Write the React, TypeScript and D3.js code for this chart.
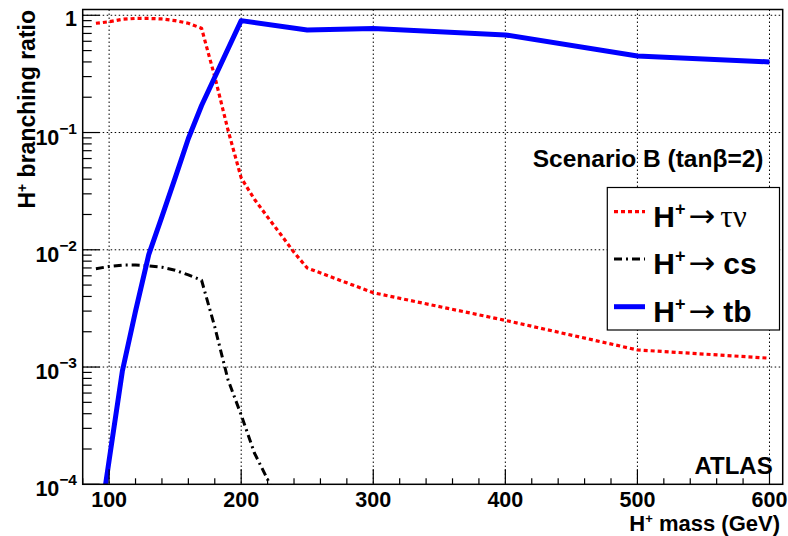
import React from "react";
import * as d3 from "d3";

// Charged Higgs branching ratios vs mass, scenario B (tanβ = 2)
const tauNuMass = [90, 100, 110, 120, 130, 140, 150, 160, 170, 175, 180, 190, 200, 210, 220, 230, 240, 250, 300, 400, 500, 600];
const tauNuBR = [0.855, 0.88, 0.925, 0.94, 0.94, 0.93, 0.9, 0.855, 0.775, 0.48, 0.3, 0.105, 0.041, 0.027, 0.019, 0.0135, 0.0095, 0.007, 0.0043, 0.0025, 0.0014, 0.00119];

const csMass = [90, 100, 110, 120, 130, 140, 150, 160, 170, 180, 190, 200, 210, 220, 230];
const csBR = [0.0069, 0.0072, 0.0074, 0.0074, 0.0073, 0.0071, 0.0067, 0.0061, 0.0055, 0.0022, 0.00078, 0.00039, 0.000185, 0.00011, 0.00006];

const tbMass = [95, 100, 110, 120, 130, 140, 150, 160, 170, 200, 250, 300, 400, 500, 600];
const tbBR = [0.000066, 0.00016, 0.00092, 0.003, 0.0091, 0.0192, 0.041, 0.089, 0.17, 0.9, 0.75, 0.77, 0.68, 0.45, 0.4];

const xTicks = [100, 200, 300, 400, 500, 600];
const yDecades = [0, -1, -2, -3, -4];

const W = 788;
const H = 536;
const L = 82.7, R = 782.7, T = 9.5, B = 484.3;

const SANS = "'Liberation Sans', Arial, Helvetica, sans-serif";
const SERIF = "'Liberation Serif', 'DejaVu Serif', 'Times New Roman', serif";
const ARROW = "'DejaVu Sans', sans-serif";

export default function App() {
  const x = d3.scaleLinear().domain([80, 610]).range([L, R]);
  const y = d3.scaleLog().domain([1e-4, 1.12]).range([B, T]);

  const line = (ms: number[], vs: number[]) =>
    d3
      .line<number>()
      .x((_, i) => x(ms[i]))
      .y((v) => y(v))(vs) || "";

  const xMinor = d3.range(80, 611, 20).filter((v) => v % 100 !== 0);
  const yMinor: number[] = [];
  for (let e = -4; e < 0; e++) for (let m = 2; m <= 9; m++) yMinor.push(m * Math.pow(10, e));

  const grid = { stroke: "#000", strokeWidth: 1, strokeDasharray: "1.5,2.5" };

  const series = [
    { label: "τν", serif: true, d: line(tauNuMass, tauNuBR), color: "#ff0000", width: 3.2, dash: "4,3" },
    { label: "cs", serif: false, d: line(csMass, csBR), color: "#000000", width: 3, dash: "8,4,2,4" },
    { label: "tb", serif: false, d: line(tbMass, tbBR), color: "#0000ff", width: 5, dash: undefined as string | undefined },
  ];

  const legendRows = [211.7, 259, 306.7];

  return (
    <svg width={W} height={H} style={{ position: "absolute", left: 0, top: 0, background: "#fff" }} fontFamily={SANS}>
      <rect x={0} y={0} width={W} height={H} fill="#fff" />
      <defs>
        <clipPath id="plotArea">
          <rect x={L} y={T} width={R - L} height={B - T} />
        </clipPath>
      </defs>

      {/* grid */}
      {xTicks.map((t) => (
        <line key={"gx" + t} x1={x(t)} x2={x(t)} y1={T} y2={B} {...grid} />
      ))}
      {yDecades.slice(0, 4).map((e) => (
        <line key={"gy" + e} x1={L} x2={R} y1={y(Math.pow(10, e))} y2={y(Math.pow(10, e))} {...grid} />
      ))}

      {/* curves */}
      <g clipPath="url(#plotArea)" fill="none">
        {series.map((s) => (
          <path key={s.label} d={s.d} stroke={s.color} strokeWidth={s.width} strokeDasharray={s.dash} strokeLinejoin="round" />
        ))}
      </g>

      {/* axis ticks */}
      {xTicks.map((t) => (
        <line key={"tx" + t} x1={x(t)} x2={x(t)} y1={B} y2={B - 15} stroke="#000" strokeWidth={1.2} />
      ))}
      {xMinor.map((t) => (
        <line key={"mx" + t} x1={x(t)} x2={x(t)} y1={B} y2={B - 6} stroke="#000" strokeWidth={1.2} />
      ))}
      {yDecades.map((e) => (
        <line key={"ty" + e} x1={L} x2={L + 17} y1={y(Math.pow(10, e))} y2={y(Math.pow(10, e))} stroke="#000" strokeWidth={1.2} />
      ))}
      {yMinor.map((v, i) => (
        <line key={"my" + i} x1={L} x2={L + 9} y1={y(v)} y2={y(v)} stroke="#000" strokeWidth={1.2} />
      ))}

      {/* frame */}
      <rect x={L} y={T} width={R - L} height={B - T} fill="none" stroke="#000" strokeWidth={1.5} />

      {/* tick labels */}
      {xTicks.map((t) => (
        <text key={"lx" + t} x={x(t)} y={506.7} textAnchor="middle" fontSize={21.5} fontWeight="bold">
          {t}
        </text>
      ))}
      {yDecades.map((e) =>
        e === 0 ? (
          <text key={"ly" + e} x={77} y={y(1) + 11} textAnchor="end" fontSize={21.5} fontWeight="bold">
            1
          </text>
        ) : (
          <text key={"ly" + e} x={77} y={y(Math.pow(10, e)) + 12} textAnchor="end" fontSize={21.5} fontWeight="bold">
            <tspan>10</tspan>
            <tspan dy={-11} fontSize={15.5}>{"\u2212" + -e}</tspan>
          </text>
        )
      )}

      {/* axis titles */}
      <text x={780} y={531} textAnchor="end" fontSize={22} fontWeight="bold">
        <tspan>H</tspan>
        <tspan dy={-8} fontSize={13}>+</tspan>
        <tspan dy={8}> mass (GeV)</tspan>
      </text>
      <text transform="translate(35,10) rotate(-90)" textAnchor="end" fontSize={23} fontWeight="bold">
        <tspan>H</tspan>
        <tspan dy={-8} fontSize={14}>+</tspan>
        <tspan dy={8}> branching ratio</tspan>
      </text>

      {/* annotations */}
      <text x={763.5} y={167.3} textAnchor="end" fontSize={24.5} fontWeight="bold">
        Scenario B (tanβ=2)
      </text>
      <text x={772.7} y={474.3} textAnchor="end" fontSize={24} fontWeight="bold">
        ATLAS
      </text>

      {/* legend */}
      <rect x={607.3} y={187.5} width={172.2} height={142.5} fill="#fff" stroke="#000" strokeWidth={1.2} />
      {series.map((s, i) => (
        <g key={"lg" + s.label}>
          <line x1={614} x2={645} y1={legendRows[i]} y2={legendRows[i]} stroke={s.color} strokeWidth={s.width} strokeDasharray={s.dash} />
          <text x={653.3} y={legendRows[i] + 15} fontSize={30} fontWeight="bold">
            <tspan>H</tspan>
            <tspan dy={-12} fontSize={18}>+</tspan>
            <tspan dy={12} dx={3} fontFamily={ARROW} fontWeight="normal" fontSize={32}>{"\u2192"}</tspan>
            {s.serif ? (
              <tspan dx={5} fontFamily={SERIF} fontWeight="normal" fontSize={31}>{s.label}</tspan>
            ) : (
              <tspan dx={8}>{s.label}</tspan>
            )}
          </text>
        </g>
      ))}
    </svg>
  );
}
